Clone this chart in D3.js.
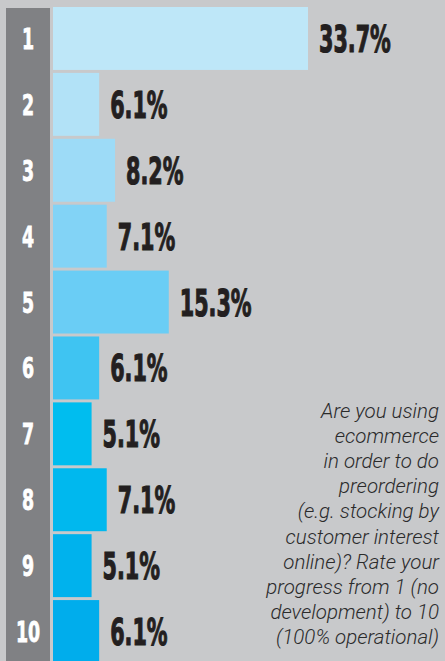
<!DOCTYPE html>
<html>
<head>
<meta charset="utf-8">
<script src="https://cdn.jsdelivr.net/npm/d3@7"></script>
<style>
  html, body { margin: 0; padding: 0; background: #c8c9cb; }
  svg { display: block; }
</style>
</head>
<body>
<div id="chart"></div>
<script>
// ---------- data ----------
const ratings = ["1", "2", "3", "4", "5", "6", "7", "8", "9", "10"];
const shares = [33.7, 6.1, 8.2, 7.1, 15.3, 6.1, 5.1, 7.1, 5.1, 6.1];
const barColors = ["#bee7f8", "#b2e2f7", "#9ddbf7", "#82d3f6", "#6acdf5",
                   "#3fc4f2", "#00bdef", "#00b8ee", "#00b2ed", "#00adec"];
const questionLines = [
  "Are you using",
  "ecommerce",
  "in order to do",
  "preordering",
  "(e.g. stocking by",
  "customer interest",
  "online)? Rate your",
  "progress from 1 (no",
  "development) to 10",
  "(100% operational)"
];

// ---------- draw ----------
const W = 445, H = 661;
const svg = d3.select("#chart").append("svg").attr("width", W).attr("height", H);

svg.append("rect").attr("width", W).attr("height", H).attr("fill", "#c8c9cb");

// gray rating column
svg.append("rect")
  .attr("x", 6).attr("y", 8).attr("width", 44).attr("height", H - 8)
  .attr("fill", "#808184");

const y = d3.scaleBand().domain(ratings).range([7, 663]).paddingInner(0.045).paddingOuter(0);
const x = d3.scaleLinear().domain([0, d3.max(shares)]).range([53, 308]);

const rows = ratings.map((r, i) => ({ r, v: shares[i], c: barColors[i] }));

svg.append("g").selectAll("rect").data(rows).enter().append("rect")
  .attr("x", x(0))
  .attr("y", d => y(d.r))
  .attr("width", d => x(d.v) - x(0))
  .attr("height", y.bandwidth())
  .attr("fill", d => d.c);

// rating numbers (condensed bold, white)
svg.append("g").selectAll("text").data(rows).enter().append("text")
  .attr("transform", d => `translate(28,${y(d.r) + y.bandwidth() / 2 + 10.5}) scale(0.6,1)`)
  .attr("text-anchor", "middle")
  .style("font-family", "'DejaVu Sans', sans-serif")
  .style("font-weight", 700)
  .style("font-size", "29px")
  .attr("fill", "#ffffff")
  .attr("stroke", "#ffffff").attr("stroke-width", 0.8)
  .text(d => d.r);

// value labels (condensed heavy, near-black)
svg.append("g").selectAll("text").data(rows).enter().append("text")
  .attr("transform", d => `translate(${x(d.v) + 11},${y(d.r) + y.bandwidth() / 2 + 13.5}) scale(0.56,1)`)
  .style("font-family", "'DejaVu Sans', sans-serif")
  .style("font-weight", 700)
  .style("font-size", "37px")
  .attr("fill", "#231f20")
  .attr("stroke", "#231f20").attr("stroke-width", 1.2)
  .text(d => d.v.toFixed(1) + "%");

// question text
svg.append("g").selectAll("text").data(questionLines).enter().append("text")
  .attr("x", 439)
  .attr("y", (d, i) => 418 + i * 25.1)
  .attr("text-anchor", "end")
  .style("font-family", "Roboto, 'Liberation Sans', sans-serif")
  .style("font-weight", 300)
  .style("font-style", "italic")
  .style("font-size", "20.5px")
  .attr("fill", "#2b2b2b")
  .text(d => d);
</script>
</body>
</html>
